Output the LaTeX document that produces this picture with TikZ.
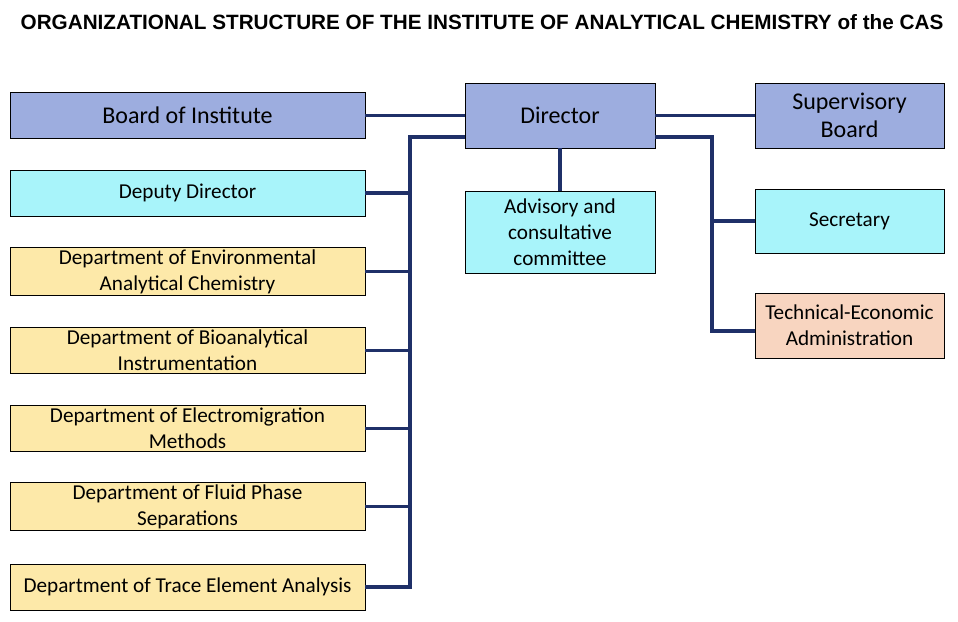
\documentclass[tikz,border=0pt]{standalone}
\usepackage{fontspec}
\setmainfont{Carlito}
\newfontfamily\titlefont{Liberation Sans}
\usetikzlibrary{positioning}
\definecolor{lineblue}{HTML}{1F3068}
\definecolor{boardblue}{HTML}{9DADDF}
\definecolor{lightcyan}{HTML}{A8F4FA}
\definecolor{deptyellow}{HTML}{FDE9A9}
\definecolor{adminsalmon}{HTML}{F8D5C0}

\begin{document}
\begin{tikzpicture}[x=1pt, y=-1pt,
  unit/.style={draw, thick, inner sep=2pt, align=center, font=\fontsize{21.2}{26}\selectfont},
  leftunit/.style={unit, minimum width=355pt, minimum height=46pt},
  midunit/.style={unit, minimum width=190pt},
  bigtext/.style={font=\fontsize{24}{28}\selectfont},
  link/.style={draw=lineblue, line width=3.2pt}]
\useasboundingbox (0,0) rectangle (958,621);
\node[font=\titlefont\bfseries\fontsize{20.7}{24}\selectfont] (title) at (482,22)
  {ORGANIZATIONAL STRUCTURE OF THE INSTITUTE OF ANALYTICAL CHEMISTRY of the CAS};
% top row
\node[leftunit, fill=boardblue, bigtext] (board) at (187.5,115.5) {Board of Institute};
\node[midunit, fill=boardblue, minimum height=65pt, bigtext] (dir) at (560,115.5) {Director};
\node[midunit, fill=boardblue, minimum width=189pt, minimum height=65pt, bigtext] (sup) at (849.5,115.5) {Supervisory\\Board};
% left column
\node[leftunit, fill=lightcyan] (dep) at (187.5,193) {Deputy Director};
\node[leftunit, fill=deptyellow] (env) at (187.5,271.5) {Department of Environmental\\Analytical Chemistry};
\node[leftunit, fill=deptyellow] (bio) at (187.5,350.5) {Department of Bioanalytical\\Instrumentation};
\node[leftunit, fill=deptyellow] (emig) at (187.5,428.5) {Department of Electromigration\\Methods};
\node[leftunit, fill=deptyellow] (fluid) at (187.5,506.5) {Department of Fluid Phase\\Separations};
\node[leftunit, fill=deptyellow] (trace) at (187.5,587) {Department of Trace Element Analysis};
% middle and right
\node[midunit, fill=lightcyan, minimum height=82pt] (adv) at (560,232) {Advisory and\\consultative\\committee};
\node[midunit, fill=lightcyan, minimum width=189pt, minimum height=64pt] (sec) at (849.5,221) {Secretary};
\node[midunit, fill=adminsalmon, minimum width=189pt, minimum height=65pt] (tea) at (849.5,325.5) {Technical-Economic\\Administration};
% connectors
\coordinate (ltop) at (410,137);
\coordinate (rtop) at (712,137);
\draw[link] (board.east) -- (dir.west);
\draw[link] (dir.east) -- (sup.west);
\draw[link] (dir.south) -- (adv.north);
\draw[link] (dir.west |- ltop) -- (ltop) |- (trace.east);
\foreach \d in {dep,env,bio,emig,fluid}
  \draw[link] (\d.east) -- (ltop |- \d.east);
\draw[link] (dir.east |- rtop) -- (rtop) |- ([yshift=-5.5pt]tea.west);
\draw[link] (sec.west) -- (rtop |- sec.west);
\end{tikzpicture}
\end{document}
